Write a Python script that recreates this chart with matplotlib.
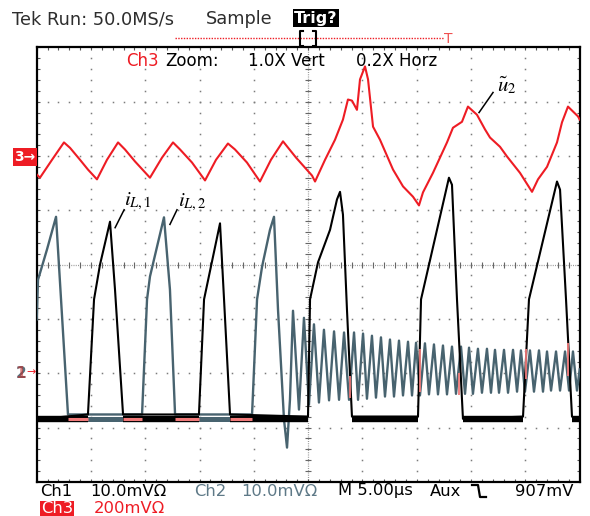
import numpy as np
import matplotlib.pyplot as plt
from matplotlib.lines import Line2D

plt.rcParams['font.family'] = ['DejaVu Sans']
plt.rcParams['mathtext.fontset'] = 'stix'

W, H = 590, 516

# x in µs (5 µs/div, 10 div), y in screen divisions (-4..4)
ch3_t = [0.0, 0.30, 1.41, 2.51, 3.07, 3.99, 4.72, 5.55, 6.47, 7.49, 8.13, 9.05,
         10.43, 11.54, 12.55, 13.20, 14.30, 15.50, 16.51, 17.61, 18.26, 19.36,
         20.56, 21.57, 22.68, 23.88, 25.35, 25.63, 26.55, 27.47, 28.20, 28.66,
         29.03, 29.49, 29.77, 30.23, 30.51, 30.97, 31.61, 32.81, 33.73, 34.65,
         35.20, 35.57, 36.49, 37.78, 38.33, 39.16, 39.71, 40.54, 41.28, 41.74,
         42.66, 43.31, 44.50, 45.61, 46.16, 46.99, 47.91, 48.37, 48.92, 49.84, 50.0]
ch3_y = [1.66, 1.60, 1.93, 2.25, 2.15, 1.93, 1.75, 1.57, 1.93, 2.25, 2.12, 1.90,
         1.60, 1.97, 2.25, 2.12, 1.88, 1.55, 1.93, 2.23, 2.12, 1.88,
         1.53, 1.93, 2.27, 1.97, 1.64, 1.53, 1.93, 2.30, 2.67, 3.04,
         3.02, 2.85, 3.41, 3.65, 3.41, 2.54, 2.30, 1.75, 1.44, 1.25,
         1.09, 1.33, 1.69, 2.25, 2.52, 2.63, 2.91, 2.76, 2.49, 2.34,
         2.17, 1.99, 1.69, 1.34, 1.57, 1.80, 2.25, 2.62, 2.91, 2.73, 2.67]

ch1_t = [0.0, 4.72, 5.28, 5.83, 6.75, 7.21, 7.95, 14.94, 15.41, 16.88, 17.25, 17.80,
         24.98, 25.17, 25.90, 27.01, 27.65, 27.93, 28.20, 28.57, 29.03, 35.11,
         35.39, 37.96, 38.24, 38.70, 39.25, 44.78, 45.33, 47.91, 48.19, 48.74,
         49.29, 50.0]
ch1_y = [-2.85, -2.76, -0.64, 0.00, 0.79, -0.46, -2.76, -2.76, -0.64, 0.76, -0.64, -2.76,
         -2.80, -0.64, 0.04, 0.64, 1.20, 1.34, 0.92, -0.83, -2.80, -2.80,
         -0.64, 1.60, 1.47, -0.64, -2.84, -2.80, -0.64, 1.53, 1.38, -0.64,
         -2.80, -2.85]

ch2_t = [0.0, 0.12, 0.95, 1.78, 2.24, 2.88, 9.70, 10.16, 10.43, 11.72, 12.27, 12.74,
         19.83, 20.29, 20.75, 21.48, 21.85, 22.22, 22.77, 23.05, 23.32]
ch2_y = [-1.01, -0.28, 0.28, 0.88, -0.64, -2.76, -2.76, -0.64, -0.22, 0.87, -0.46, -2.76,
         -2.76, -0.64, -0.04, 0.64, 0.88, -0.83, -2.85, -3.37, -2.49]

# ringing of ch2 after the third pulse
ring_peak_t = [23.60, 24.61, 25.53, 26.45, 27.38, 28.30, 29.22, 30.05, 30.87, 31.70,
               32.53, 33.36, 34.19, 34.93, 35.75, 36.58, 37.41, 38.24, 39.07, 39.81,
               40.63, 41.46, 42.20, 43.03, 43.86, 44.59, 45.42, 46.25, 46.99, 47.82,
               48.65, 49.38]
ring_peak_y = [-0.85, -0.98, -1.10, -1.20, -1.23, -1.25, -1.25, -1.27, -1.31, -1.34,
               -1.38, -1.40, -1.42, -1.44, -1.45, -1.47, -1.49, -1.51, -1.51, -1.53,
               -1.55, -1.55, -1.57, -1.57, -1.57, -1.58, -1.58, -1.58, -1.60, -1.60,
               -1.60, -1.60]
ring_trough_t = [24.15, 25.07, 25.99, 26.92, 27.84, 28.76, 29.59, 30.41, 31.24, 32.07,
                 32.90, 33.73, 34.56, 35.29, 36.12, 36.95, 37.78, 38.61, 39.44, 40.17,
                 41.00, 41.83, 42.57, 43.40, 44.23, 44.96, 45.79, 46.62, 47.36, 48.19,
                 49.02, 49.75]
ring_trough_y = [-2.67, -2.58, -2.54, -2.50, -2.49, -2.49, -2.49, -2.47, -2.45, -2.43,
                 -2.43, -2.41, -2.41, -2.41, -2.39, -2.39, -2.39, -2.38, -2.38, -2.38,
                 -2.36, -2.36, -2.36, -2.36, -2.34, -2.34, -2.34, -2.34, -2.32, -2.32,
                 -2.32, -2.32]
ring_end_t, ring_end_y = 50.0, -1.93

floor_y = -2.84
ch1_floor_spans = [(0.0, 4.72), (7.95, 14.94), (17.80, 24.98), (29.03, 35.11),
                   (39.25, 44.78), (49.29, 50.0)]
ch2_floor_spans = [(2.88, 9.70), (12.74, 19.83)]
overlap_spans = [(2.88, 4.72), (7.95, 9.70), (12.74, 14.94), (17.80, 19.83)]
overlap_edge_t = [28.85, 35.30, 38.85, 45.10, 48.95]
overlap_edge_lo = [-2.45, -2.35, -2.40, -2.10, -2.05]
overlap_edge_hi = [-2.05, -1.55, -2.00, -1.55, -1.45]

RED = '#ee1c24'
SLATE = '#48636f'
PINK = '#f07a7a'
DOT = '#7c7c7c'

fig = plt.figure(figsize=(W / 100, H / 100), dpi=100)
ax = fig.add_axes([36.7 / W, 1 - 481.8 / H, 543 / W, 434.4 / H])
ax.set_xlim(0, 50)
ax.set_ylim(-4, 4)
ax.set_xticks([])
ax.set_yticks([])
for s in ax.spines.values():
    s.set_linewidth(1.6)
    s.set_color('black')

# graticule
minor_y = np.arange(-4, 4.001, 0.2)
minor_t = np.arange(0, 50.001, 1.0)
for tv in range(5, 50, 5):
    if tv != 25:
        ax.plot([tv] * len(minor_y), minor_y, ls='none', marker='s', ms=1.1,
                mew=0, color=DOT, zorder=1)
for yv in range(-3, 4):
    if yv != 0:
        ax.plot(minor_t, [yv] * len(minor_t), ls='none', marker='s', ms=1.1,
                mew=0, color=DOT, zorder=1)
ax.axvline(25, color='#999999', lw=0.9, ls=(0, (0.8, 1.0)), zorder=1)
ax.axhline(0, color='#999999', lw=0.9, ls=(0, (0.8, 1.0)), zorder=1)
ax.plot([25] * len(minor_y), minor_y, ls='none', marker='_', ms=5, mew=0.8,
        color='#666666', zorder=1)
ax.plot(minor_t, [0] * len(minor_t), ls='none', marker='|', ms=5, mew=0.8,
        color='#666666', zorder=1)
for yv in (-4, 4):
    ax.plot(minor_t, [yv] * len(minor_t), ls='none', marker='|', ms=5, mew=0.8,
            color='#555555', zorder=1)
for tv in (0, 50):
    ax.plot([tv] * len(minor_y), minor_y, ls='none', marker='_', ms=5, mew=0.8,
            color='#555555', zorder=1)

# ch2 (grey) trace
g_t = list(ch2_t)
g_y = list(ch2_y)
for pt, py, tt, ty in zip(ring_peak_t, ring_peak_y, ring_trough_t, ring_trough_y):
    g_t += [pt, tt]
    g_y += [py, ty]
g_t.append(ring_end_t)
g_y.append(ring_end_y)
ax.plot(g_t, g_y, color=SLATE, lw=1.7, zorder=3)
for a, b in ch2_floor_spans:
    ax.plot([a, b], [floor_y, floor_y], color=SLATE, lw=3.6, zorder=3,
            solid_capstyle='butt')

# ch1 (black) trace
ax.plot(ch1_t, ch1_y, color='black', lw=1.5, zorder=4)
for a, b in ch1_floor_spans:
    ax.plot([a, b], [floor_y, floor_y], color='black', lw=4.6, zorder=4,
            solid_capstyle='butt')

# overlap of ch1 and ch2 shown in pink
for a, b in overlap_spans:
    ax.plot([a, b], [floor_y, floor_y], color=PINK, lw=2.2, zorder=5,
            solid_capstyle='butt')
ax.vlines(overlap_edge_t, overlap_edge_lo, overlap_edge_hi, color=PINK, lw=1.3, zorder=5)

# ch3 (red) trace
ax.plot(ch3_t, ch3_y, color=RED, lw=1.5, zorder=6)

# trace labels
ax.text(8.0, 1.10, r'$i_{L,\mathit{1}}$', fontsize=15, zorder=7)
ax.plot([7.22, 8.05], [0.68, 1.01], color='black', lw=1.1, zorder=7)
ax.text(13.0, 1.07, r'$i_{L,\mathit{2}}$', fontsize=15, zorder=7)
ax.plot([12.27, 12.92], [0.74, 1.01], color='black', lw=1.1, zorder=7)
ax.text(42.4, 3.19, r'$\tilde{u}_{\mathit{2}}$', fontsize=15, zorder=7)
ax.plot([40.73, 42.02], [2.80, 3.17], color='black', lw=1.1, zorder=7)


def fx(x):
    return x / W


def fy(y):
    return 1 - y / H


# header
fig.text(fx(12), fy(19), 'Tek Run: 50.0MS/s', fontsize=12.8, color='#2e2e2e', va='center')
fig.text(fx(206), fy(19), 'Sample', fontsize=12.8, color='#2e2e2e', va='center')
fig.text(fx(316), fy(18), 'Trig?', fontsize=11.5, color='white', weight='bold',
         va='center', ha='center',
         bbox=dict(facecolor='black', edgecolor='none', pad=1.0))
fig.add_artist(Line2D([fx(175), fx(444)], [fy(38), fy(38)], color=RED, lw=1.0,
                      ls=(0, (1, 1))))
fig.text(fx(448), fy(39), 'T', fontsize=10, color='#f05050', va='center', ha='center')
fig.add_artist(Line2D([fx(303), fx(300), fx(300), fx(303)],
                      [fy(31), fy(31), fy(46), fy(46)], color='black', lw=1.5))
fig.add_artist(Line2D([fx(313), fx(316), fx(316), fx(313)],
                      [fy(31), fy(31), fy(46), fy(46)], color='black', lw=1.5))

# zoom line inside the graticule
fig.text(fx(126), fy(61), 'Ch3', fontsize=12, color=RED, va='center', zorder=10)
fig.text(fx(165), fy(61), 'Zoom:', fontsize=12, color='black', va='center', zorder=10)
fig.text(fx(248), fy(61), '1.0X Vert', fontsize=12, color='black', va='center', zorder=10)
fig.text(fx(356), fy(61), '0.2X Horz', fontsize=12, color='black', va='center', zorder=10)

# ground markers
fig.text(fx(25), fy(157), '3\u2192', fontsize=10, color='white', weight='bold',
         va='center', ha='center',
         bbox=dict(facecolor=RED, edgecolor='none', pad=1.2))
fig.text(fx(21), fy(373), '2', fontsize=11, color='#5a6f7a', weight='bold',
         va='center', ha='center')
fig.text(fx(21), fy(373), '1', fontsize=11, color='#c03030', weight='bold',
         va='center', ha='center', alpha=0.6)
fig.text(fx(31), fy(372), '\u2192', fontsize=8, color=RED, va='center', ha='center')

# footer
fy1 = fy(491)
fs = 11.8
fig.text(fx(40), fy1, 'Ch1', fontsize=fs, color='black', va='center')
fig.text(fx(90), fy1, '10.0mV\u03a9', fontsize=fs, color='black', va='center')
fig.text(fx(194), fy1, 'Ch2', fontsize=fs, color='#5e7987', va='center')
fig.text(fx(241), fy1, '10.0mV\u03a9', fontsize=fs, color='#5e7987', va='center')
fig.text(fx(338), fy1, 'M 5.00\u00b5s', fontsize=fs, color='black', va='center')
fig.text(fx(430), fy1, 'Aux', fontsize=fs, color='black', va='center')
fig.add_artist(Line2D([fx(472), fx(478), fx(480), fx(486)],
                      [fy(485), fy(485), fy(497), fy(497)], color='black', lw=1.6))
fig.text(fx(515), fy1, '907mV', fontsize=fs, color='black', va='center')
fig.text(fx(57), fy(508.5), 'Ch3', fontsize=fs, color='white', va='center', ha='center',
         bbox=dict(facecolor=RED, edgecolor='none', pad=0.4))
fig.text(fx(94), fy(508.5), '200mV\u03a9', fontsize=fs, color=RED, va='center')

fig.savefig('out.png', dpi=100)
